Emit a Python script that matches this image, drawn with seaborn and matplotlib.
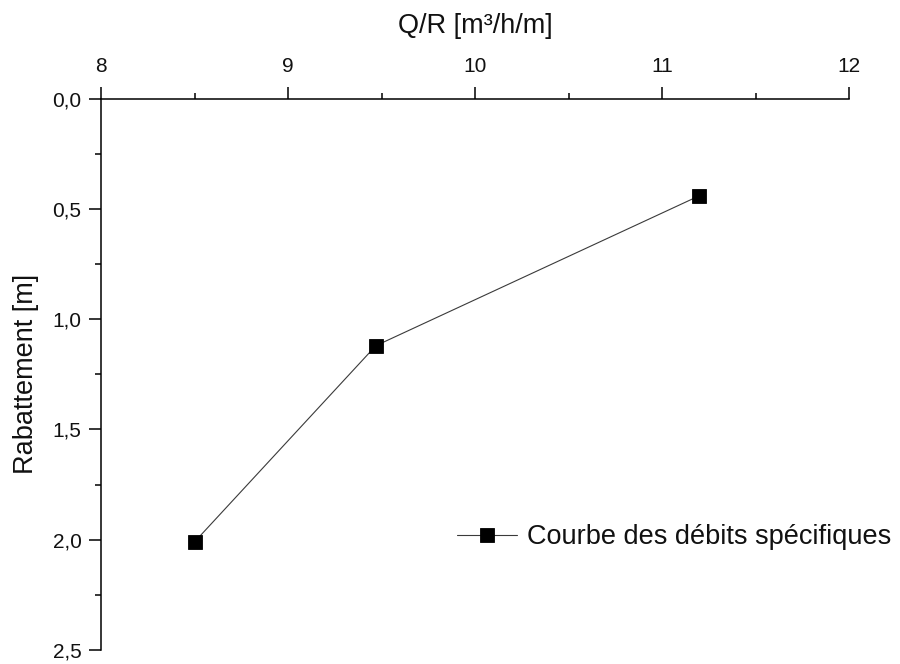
import matplotlib
matplotlib.use("Agg")
import matplotlib.pyplot as plt
from matplotlib.ticker import FuncFormatter, MultipleLocator
import seaborn as sns
import pandas as pd

# Specific discharge (Q/R) versus drawdown
debit_specifique = [8.50, 9.47, 11.20]
rabattement = [2.01, 1.12, 0.44]
serie = "Courbe des débits spécifiques"

x_ticks = [8, 9, 10, 11, 12]
y_ticks = [0.0, 0.5, 1.0, 1.5, 2.0, 2.5]

df = pd.DataFrame({"Q/R": debit_specifique, "Rabattement": rabattement, "serie": serie})

sns.set_theme(style="ticks")
plt.rcParams["font.family"] = ["Liberation Sans", "DejaVu Sans"]

fig = plt.figure(figsize=(9, 6.64), dpi=100)
ax = fig.add_axes([101 / 900, 1 - 650 / 664, 748 / 900, (650 - 98.7) / 664])

sns.lineplot(
    data=df, x="Q/R", y="Rabattement", ax=ax, sort=False,
    color="#3a3a3a", linewidth=0.8, marker="s", markersize=9.5,
    markerfacecolor="black", markeredgecolor="black", markeredgewidth=0.6,
    label=serie,
)

ax.set_xlim(x_ticks[0], x_ticks[-1])
ax.set_ylim(y_ticks[-1], y_ticks[0])
ax.set_xticks(x_ticks)
ax.set_yticks(y_ticks)
ax.xaxis.set_minor_locator(MultipleLocator(0.5))
ax.yaxis.set_minor_locator(MultipleLocator(0.25))
ax.yaxis.set_major_formatter(FuncFormatter(lambda v, p: f"{v:.1f}".replace(".", ",")))
ax.xaxis.set_major_formatter(FuncFormatter(lambda v, p: f"{v:g}"))

ax.xaxis.tick_top()
ax.xaxis.set_label_position("top")
for s in ("bottom", "right"):
    ax.spines[s].set_visible(False)
for s in ("top", "left"):
    ax.spines[s].set_linewidth(1.1)
    ax.spines[s].set_color("black")

ax.tick_params(axis="both", which="major", length=8.5, width=1.1, color="black",
               labelsize=15, labelcolor="#111111", direction="out")
ax.tick_params(axis="both", which="minor", length=4.5, width=1.1, color="black", direction="out")
ax.tick_params(axis="x", which="major", pad=8)
ax.tick_params(axis="y", which="major", pad=5.5)

ax.set_xlabel("Q/R [m³/h/m]", fontsize=19.5, labelpad=17, color="#111111")
ax.set_ylabel("Rabattement [m]", fontsize=19.5, labelpad=10, color="#111111")

ax.legend(
    loc="center left", bbox_to_anchor=(457 / 900, 1 - 537 / 664),
    bbox_transform=fig.transFigure, frameon=False, fontsize=19.5,
    borderpad=0, borderaxespad=0, handlelength=2.2, handletextpad=0.4,
    labelcolor="#111111",
)

fig.savefig("out.png", dpi=100, facecolor="white")
